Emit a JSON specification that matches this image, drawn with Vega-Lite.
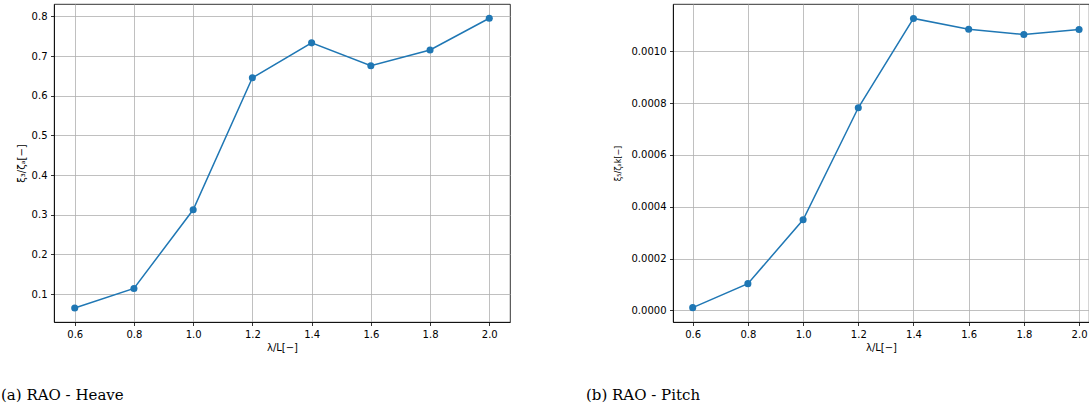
{
  "$schema": "https://vega.github.io/schema/vega-lite/v6.json",
  "padding": {"left": 0, "top": 3, "right": 0, "bottom": 0},
  "background": "white",
  "datasets": {
    "heave": [
      {"lam": 0.6, "v": 0.0648},
      {"lam": 0.8, "v": 0.1142},
      {"lam": 1.0, "v": 0.3126},
      {"lam": 1.2, "v": 0.6454},
      {"lam": 1.4, "v": 0.7335},
      {"lam": 1.6, "v": 0.6757},
      {"lam": 1.8, "v": 0.7155},
      {"lam": 2.0, "v": 0.7955}
    ],
    "pitch": [
      {"lam": 0.6, "v": 0.0000104},
      {"lam": 0.8, "v": 0.000103},
      {"lam": 1.0, "v": 0.0003495},
      {"lam": 1.2, "v": 0.000782},
      {"lam": 1.4, "v": 0.001127},
      {"lam": 1.6, "v": 0.001085},
      {"lam": 1.8, "v": 0.001065},
      {"lam": 2.0, "v": 0.001084}
    ]
  },
  "spacing": 74,
  "hconcat": [
    {
      "width": 456,
      "height": 318,
      "data": {"name": "heave"},
      "title": {"text": "(a) RAO - Heave", "orient": "bottom", "anchor": "start", "frame": "group", "dx": -53, "offset": 36, "font": "DejaVu Serif", "fontSize": 15, "fontWeight": "normal", "color": "black"},
      "mark": {"type": "line", "color": "#1f77b4", "strokeWidth": 1.5, "point": {"size": 50, "filled": true, "opacity": 1, "color": "#1f77b4"}},
      "encoding": {
        "x": {"field": "lam", "type": "quantitative", "scale": {"domain": [0.53, 2.07], "nice": false, "zero": false},
              "axis": {"values": [0.6, 0.8, 1.0, 1.2, 1.4, 1.6, 1.8, 2.0], "format": ".1f", "title": "λ/L[−]"}},
        "y": {"field": "v", "type": "quantitative", "scale": {"domain": [0.0295, 0.8315], "nice": false, "zero": false},
              "axis": {"values": [0.1, 0.2, 0.3, 0.4, 0.5, 0.6, 0.7, 0.8], "format": ".1f", "title": "ξ₃/ζₐ[−]", "titlePadding": 5}}
      }
    },
    {
      "width": 416,
      "height": 318,
      "data": {"name": "pitch"},
      "title": {"text": "(b) RAO - Pitch", "orient": "bottom", "anchor": "start", "frame": "group", "dx": -87, "offset": 36, "font": "DejaVu Serif", "fontSize": 15, "fontWeight": "normal", "color": "black"},
      "mark": {"type": "line", "color": "#1f77b4", "strokeWidth": 1.5, "point": {"size": 50, "filled": true, "opacity": 1, "color": "#1f77b4"}},
      "encoding": {
        "x": {"field": "lam", "type": "quantitative", "scale": {"domain": [0.5286, 2.036], "nice": false, "zero": false},
              "axis": {"values": [0.6, 0.8, 1.0, 1.2, 1.4, 1.6, 1.8, 2.0], "format": ".1f", "title": "λ/L[−]"}},
        "y": {"field": "v", "type": "quantitative", "scale": {"domain": [-0.0000451, 0.0011827], "nice": false, "zero": false},
              "axis": {"values": [0, 0.0002, 0.0004, 0.0006, 0.0008, 0.001], "format": ".4f", "title": "ξ₅/ζₐk[−]", "titleFontSize": 8, "titlePadding": 9}}
      }
    }
  ],
  "config": {
    "view": {"stroke": "black", "strokeWidth": 0.8},
    "axis": {
      "domainColor": "black", "domainWidth": 0.8,
      "tickColor": "black", "tickWidth": 0.8, "tickSize": 3.5,
      "grid": true, "gridColor": "#b0b0b0", "gridWidth": 0.8, "gridOpacity": 1,
      "labelFont": "DejaVu Sans", "labelFontSize": 10, "labelColor": "black", "labelPadding": 3.5,
      "titleFont": "DejaVu Sans", "titleFontSize": 10, "titleFontWeight": "normal", "titleColor": "black",
      "labelFlush": false, "labelOverlap": false
    },
    "axisX": {"titlePadding": 3}
  }
}
